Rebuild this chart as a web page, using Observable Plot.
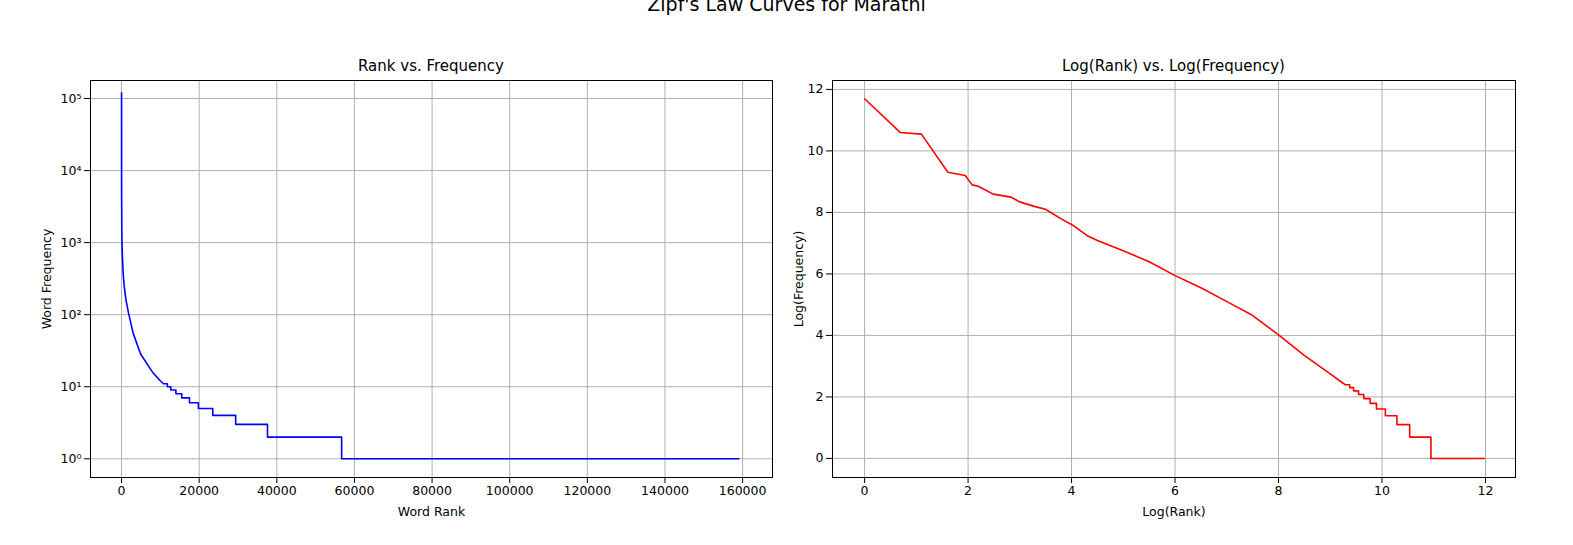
<!DOCTYPE html>
<html>
<head>
<meta charset="utf-8">
<script src="https://cdn.jsdelivr.net/npm/d3@7"></script>
<script src="https://cdn.jsdelivr.net/npm/@observablehq/plot@0.6"></script>
<style>
  body { margin: 0; background: #fff; font-family: "DejaVu Sans", sans-serif; }
  #page { position: relative; width: 1573px; height: 545px; overflow: hidden; }
  .t { position: absolute; text-align: center; color: #000; }
  .panel { position: absolute; top: 0; }
</style>
</head>
<body>
<div id="page">
  <div class="t" style="left:0;width:1573px;top:-7px;font-size:19px">Zipf's Law Curves for Marathi</div>
  <div class="t" style="left:90px;width:682px;top:57px;font-size:15px">Rank vs. Frequency</div>
  <div class="t" style="left:832px;width:683px;top:57px;font-size:15px">Log(Rank) vs. Log(Frequency)</div>
  <div class="panel" id="left" style="left:0"></div>
  <div class="panel" id="right" style="left:786px"></div>
</div>
<script>
// head of the distribution: rank, frequency
const headRanks = [1, 2, 3, 5, 7, 8, 9, 12, 17, 20, 27, 33, 45, 55, 74, 90, 150, 245, 400, 665, 1100, 1800, 3000, 4900, 8100, 9900];
const headFreqs = [120000, 40000, 38000, 11000, 9900, 7300, 7000, 5400, 4900, 4200, 3600, 3300, 2400, 2000, 1400, 1200, 850, 600, 385, 257, 164, 105, 55, 28.5, 15.6, 12.2];

// tail plateaus: first rank of each frequency level
const plateauStarts = [10800, 11800, 12700, 14000, 15500, 17500, 19800, 23500, 29400, 37600, 56700];
const plateauFreqs = [11, 10, 9, 8, 7, 6, 5, 4, 3, 2, 1];
const lastRank = 159000;

const logTicks = [1, 10, 100, 1000, 10000, 100000];
const rankTicks = d3.range(0, 160001, 20000);
const logLogTicks = d3.range(0, 13, 2);

const data = headRanks.map((r, i) => ({rank: r, freq: headFreqs[i]}));
plateauStarts.forEach((s, i) => {
  const end = i + 1 < plateauStarts.length ? plateauStarts[i + 1] - 1 : lastRank;
  data.push({rank: s, freq: plateauFreqs[i]});
  data.push({rank: end, freq: plateauFreqs[i]});
});
const logData = data.map(d => ({lr: Math.log(d.rank), lf: Math.log(d.freq)}));

const sup = {"0": "⁰", "1": "¹", "2": "²", "3": "³", "4": "⁴", "5": "⁵"};

const common = {
  height: 545,
  marginTop: 80,
  marginBottom: 68,
  style: {fontFamily: "DejaVu Sans, sans-serif", fontSize: "12.5px", color: "#000", background: "transparent"}
};

const left = Plot.plot({
  ...common,
  width: 786,
  marginLeft: 90,
  marginRight: 14,
  x: {domain: [-8000, 167700], ticks: rankTicks, tickFormat: d => String(d),
      label: "Word Rank", labelAnchor: "center", labelArrow: "none", labelOffset: 38},
  y: {type: "log", domain: [0.55, 177800], ticks: logTicks,
      tickFormat: d => "10" + sup[String(Math.round(Math.log10(d)))],
      label: "Word Frequency", labelAnchor: "center", labelArrow: "none", labelOffset: 48},
  marks: [
    Plot.gridX(rankTicks, {stroke: "#b0b0b0", strokeOpacity: 1}),
    Plot.gridY(logTicks, {stroke: "#b0b0b0", strokeOpacity: 1}),
    Plot.line(data, {x: "rank", y: "freq", stroke: "blue", strokeWidth: 1.6}),
    Plot.frame({stroke: "#000"})
  ]
});
document.getElementById("left").appendChild(left);

const right = Plot.plot({
  ...common,
  width: 787,
  marginLeft: 46,
  marginRight: 58,
  x: {domain: [-0.62, 12.58], ticks: logLogTicks,
      label: "Log(Rank)", labelAnchor: "center", labelArrow: "none", labelOffset: 38},
  y: {domain: [-0.62, 12.29], ticks: logLogTicks,
      label: "Log(Frequency)", labelAnchor: "center", labelArrow: "none", labelOffset: 38},
  marks: [
    Plot.gridX(logLogTicks, {stroke: "#b0b0b0", strokeOpacity: 1}),
    Plot.gridY(logLogTicks, {stroke: "#b0b0b0", strokeOpacity: 1}),
    Plot.line(logData, {x: "lr", y: "lf", stroke: "red", strokeWidth: 1.6}),
    Plot.frame({stroke: "#000"})
  ]
});
document.getElementById("right").appendChild(right);
</script>
</body>
</html>
